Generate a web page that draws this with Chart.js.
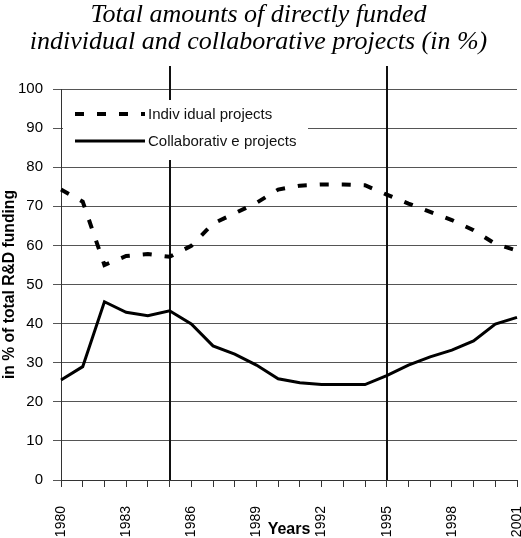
<!DOCTYPE html>
<html>
<head>
<meta charset="utf-8">
<script src="https://cdn.jsdelivr.net/npm/chart.js@4.4.1/dist/chart.umd.min.js"></script>
<style>
  html, body { margin: 0; padding: 0; background: #fff; }
  #wrap { width: 521px; height: 538px; }
</style>
</head>
<body>
<div id="wrap"><canvas id="fundChart"></canvas></div>
<script>
// datos
const years = [1980, 1981, 1982, 1983, 1984, 1985, 1986, 1987, 1988, 1989, 1990,
               1991, 1992, 1993, 1994, 1995, 1996, 1997, 1998, 1999, 2000, 2001]
const individual = [74.3, 71.2, 55.0, 57.3, 57.8, 57.1, 59.9, 65.6, 68.2, 70.9, 74.3,
                    75.3, 75.6, 75.6, 75.4, 73.0, 70.7, 68.6, 66.5, 63.9, 60.4, 58.7]
const collaborative = [25.6, 29.0, 45.6, 42.9, 42.0, 43.3, 39.9, 34.3, 32.2, 29.4, 25.9,
                       24.9, 24.4, 24.4, 24.4, 26.7, 29.4, 31.5, 33.2, 35.6, 39.9, 41.6]
const markerYears = [1985, 1995]
const seriesNames = ['Indiv idual projects', 'Collaborativ e projects']
const titleLines = ['Total amounts of directly funded', 'individual and collaborative projects (in %)']

Chart.defaults.font.family = "'Liberation Sans', Arial, sans-serif"
Chart.defaults.color = '#000'

// lineas verticales que sobresalen por arriba
const markerLines = {
    id: 'markerLines',
    beforeDatasetsDraw(chart) {
        const {ctx, chartArea, scales} = chart
        ctx.save()
        ctx.strokeStyle = '#111'
        ctx.lineWidth = 2
        markerYears.forEach(yr => {
            const x = Math.round(scales.x.getPixelForValue(years.indexOf(yr)))
            ctx.beginPath()
            ctx.moveTo(x, 66)
            ctx.lineTo(x, chartArea.bottom)
            ctx.stroke()
        })
        ctx.restore()
    }
}

// leyenda dentro del area del grafico, con fondo blanco
const boxLegend = {
    id: 'boxLegend',
    afterDraw(chart) {
        const {ctx} = chart
        ctx.save()
        ctx.fillStyle = '#fff'
        ctx.fillRect(63, 100, 245, 60)
        chart.data.datasets.forEach((ds, i) => {
            const y = 114 + i * 27
            ctx.strokeStyle = '#000'
            ctx.lineWidth = ds.borderWidth
            ctx.setLineDash(ds.borderDash || [])
            ctx.beginPath()
            ctx.moveTo(75, y)
            ctx.lineTo(145, y)
            ctx.stroke()
            ctx.setLineDash([])
            ctx.fillStyle = '#111'
            ctx.font = "15px 'Liberation Sans', Arial, sans-serif"
            ctx.textBaseline = 'middle'
            ctx.fillText(ds.label, 148, y + 1)
        })
        ctx.restore()
    }
}

const data = {
    labels: years,
    datasets: [{
        label: seriesNames[0],
        data: individual,
        borderColor: '#000',
        borderWidth: 4,
        borderDash: [9, 13],
        pointRadius: 0,
        tension: 0,
        fill: false
    }, {
        label: seriesNames[1],
        data: collaborative,
        borderColor: '#000',
        borderWidth: 3,
        pointRadius: 0,
        tension: 0,
        fill: false
    }]
}

const options = {
    responsive: true,
    maintainAspectRatio: false,
    animation: false,
    layout: { padding: { left: 0, right: 4, top: 0, bottom: 0 } },
    plugins: {
        legend: { display: false },
        tooltip: { enabled: false },
        title: {
            display: true,
            text: titleLines,
            color: '#000',
            font: { family: "'Liberation Serif', 'Times New Roman', serif", size: 26, style: 'italic', weight: 'normal', lineHeight: 1.04 },
            padding: { top: 2, bottom: 33 }
        }
    },
    scales: {
        x: {
            type: 'category',
            offset: false,
            grid: { display: true, drawOnChartArea: false, drawTicks: true, tickLength: 7, color: '#333' },
            border: { display: true, color: '#333', width: 1 },
            ticks: {
                autoSkip: false,
                maxRotation: 90,
                minRotation: 90,
                padding: 19,
                font: { size: 14, lineHeight: 1 },
                callback: function (value) {
                    const yr = Number(this.getLabelForValue(value))
                    return (yr - 1980) % 3 === 0 ? String(yr) : ''
                }
            },
            title: {
                display: true,
                text: 'Years',
                font: { size: 16, weight: 'bold', lineHeight: 1 },
                padding: { top: 0, bottom: 0 }
            },
            afterFit(scale) {
                scale.height = 58
                scale.paddingLeft = 0
                scale.paddingRight = 0
            }
        },
        y: {
            min: 0,
            max: 100,
            grid: { color: '#555', lineWidth: 1, tickLength: 8 },
            border: { display: true, color: '#333', width: 1 },
            ticks: { stepSize: 10, padding: 10, font: { size: 15 } },
            title: {
                display: true,
                text: 'in % of total R&D funding',
                font: { size: 15.7, weight: 'bold' },
                padding: { top: 0, bottom: 0 }
            },
            afterFit(scale) {
                scale.width = 61
            }
        }
    }
}

new Chart('fundChart', { type: 'line', data, options, plugins: [markerLines, boxLegend] })
</script>
</body>
</html>
